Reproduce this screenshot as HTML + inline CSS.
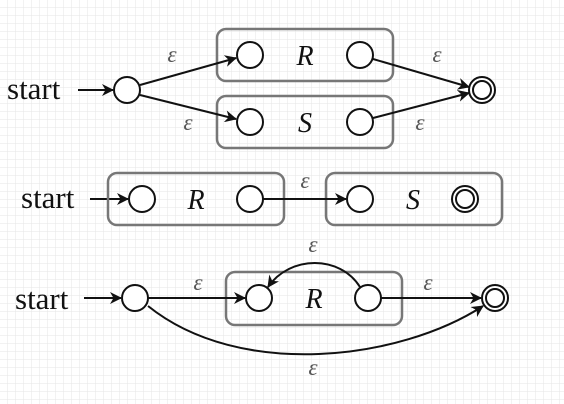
<!DOCTYPE html>
<html><head><meta charset="utf-8"><style>
html,body{margin:0;padding:0;background:#fff}
svg{display:block}
text{font-family:"Liberation Serif",serif}
.lbl{font-size:31px;fill:#111}
.eps{font-size:23px;font-style:italic;fill:#555}
.st{fill:#fff;stroke:#111;stroke-width:2}
.box{fill:none;stroke:#777;stroke-width:2.5}
.ed{fill:none;stroke:#111;stroke-width:2}
.nm{font-size:28px;font-style:italic;fill:#111}
</style></head><body>
<svg width="564" height="404" viewBox="0 0 564 404">
<defs>
<pattern id="g" width="8" height="8" patternUnits="userSpaceOnUse"><path d="M8 0V8H0" fill="none" stroke="#e6e6e6" stroke-width="1"/></pattern>
<marker id="a" markerWidth="12" markerHeight="12" refX="11" refY="6" orient="auto" markerUnits="userSpaceOnUse"><path d="M0 0L12 6L0 12L3.5 6Z" fill="#111"/></marker>
</defs>
<rect width="564" height="404" fill="url(#g)"/>

<g>
<text x="7" y="99" class="lbl">start</text>
<line x1="78" y1="90" x2="113" y2="90" class="ed" marker-end="url(#a)"/>
<rect x="217" y="29" width="176" height="52" rx="9" class="box"/>
<rect x="217" y="96" width="176" height="52" rx="9" class="box"/>
<line x1="140" y1="85" x2="236" y2="58" class="ed" marker-end="url(#a)"/>
<line x1="140" y1="95" x2="236" y2="119" class="ed" marker-end="url(#a)"/>
<line x1="373" y1="59" x2="469" y2="87" class="ed" marker-end="url(#a)"/>
<line x1="373" y1="118" x2="469" y2="93" class="ed" marker-end="url(#a)"/>
<circle cx="127" cy="90" r="13" class="st"/>
<circle cx="250" cy="55" r="13" class="st"/><circle cx="360" cy="55" r="13" class="st"/>
<circle cx="250" cy="122" r="13" class="st"/><circle cx="360" cy="122" r="13" class="st"/>
<text x="305" y="65" class="nm" text-anchor="middle">R</text>
<text x="305" y="132" class="nm" text-anchor="middle">S</text>
<circle cx="482" cy="90" r="13" class="st"/><circle cx="482" cy="90" r="9" class="st"/>
<text x="172" y="62" class="eps" text-anchor="middle">ε</text>
<text x="188" y="130" class="eps" text-anchor="middle">ε</text>
<text x="437" y="62" class="eps" text-anchor="middle">ε</text>
<text x="420" y="130" class="eps" text-anchor="middle">ε</text>
</g>

<g>
<text x="21" y="208" class="lbl">start</text>
<line x1="90" y1="199" x2="128" y2="199" class="ed" marker-end="url(#a)"/>
<rect x="108" y="173" width="176" height="52" rx="9" class="box"/>
<rect x="326" y="173" width="176" height="52" rx="9" class="box"/>
<line x1="263" y1="199" x2="346" y2="199" class="ed" marker-end="url(#a)"/>
<circle cx="142" cy="199" r="13" class="st"/><circle cx="250" cy="199" r="13" class="st"/>
<text x="196" y="209" class="nm" text-anchor="middle">R</text>
<circle cx="360" cy="199" r="13" class="st"/>
<text x="413" y="209" class="nm" text-anchor="middle">S</text>
<circle cx="465" cy="199" r="13" class="st"/><circle cx="465" cy="199" r="9" class="st"/>
<text x="305" y="188" class="eps" text-anchor="middle">ε</text>
</g>

<g>
<text x="15" y="309" class="lbl">start</text>
<line x1="84" y1="298" x2="121" y2="298" class="ed" marker-end="url(#a)"/>
<rect x="226" y="272" width="176" height="53" rx="9" class="box"/>
<line x1="148" y1="298" x2="245" y2="298" class="ed" marker-end="url(#a)"/>
<path d="M360 287 C340 255 290 255 268 287" class="ed" marker-end="url(#a)"/>
<line x1="381" y1="298" x2="481" y2="298" class="ed" marker-end="url(#a)"/>
<path d="M148 306 C240 380 400 360 483 306" class="ed" marker-end="url(#a)"/>
<circle cx="135" cy="298" r="13" class="st"/>
<circle cx="259" cy="298" r="13" class="st"/><circle cx="368" cy="298" r="13" class="st"/>
<text x="314" y="308" class="nm" text-anchor="middle">R</text>
<circle cx="495" cy="298" r="13" class="st"/><circle cx="495" cy="298" r="9" class="st"/>
<text x="198" y="290" class="eps" text-anchor="middle">ε</text>
<text x="313" y="252" class="eps" text-anchor="middle">ε</text>
<text x="428" y="290" class="eps" text-anchor="middle">ε</text>
<text x="313" y="375" class="eps" text-anchor="middle">ε</text>
</g>
</svg>
</body></html>
